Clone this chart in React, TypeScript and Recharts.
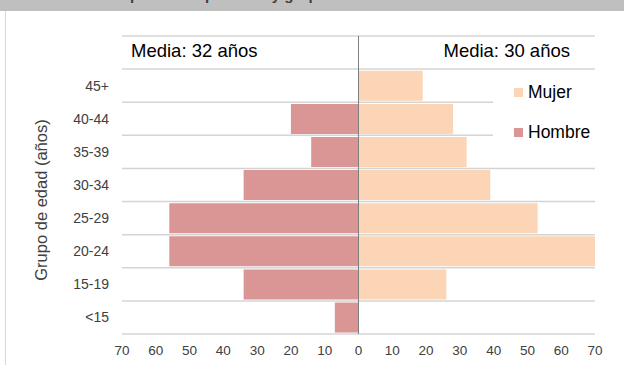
import React from "react";
import {
  BarChart,
  Bar,
  XAxis,
  YAxis,
  CartesianGrid,
  ReferenceLine,
} from "recharts";

const categories = ["", "45+", "40-44", "35-39", "30-34", "25-29", "20-24", "15-19", "<15"];
const mujer = [0, 19, 28, 32, 39, 53, 70, 26, 0];
const hombre = [0, 0, 20, 14, 34, 56, 56, 34, 7];
const xTicks = [-70, -60, -50, -40, -30, -20, -10, 0, 10, 20, 30, 40, 50, 60, 70];
const mediaHombre = "Media: 32 años";
const mediaMujer = "Media: 30 años";
const seriesNames = { mujer: "Mujer", hombre: "Hombre" };
const title = "Distribución de la población por sexo y grupo de edad";
const yLabel = "Grupo de edad (años)";

const data = categories.map((g, i) => ({ grupo: g, mujer: mujer[i], hombre: -hombre[i] }));

const COLOR_MUJER = "#FBD5B5";
const COLOR_HOMBRE = "#D99694";
const FONT = "'Liberation Sans', Arial, sans-serif";

export default function App() {
  return (
    <div
      style={{
        position: "absolute",
        left: 0,
        top: 0,
        width: 624,
        height: 365,
        background: "#ffffff",
        overflow: "hidden",
        fontFamily: FONT,
      }}
    >
      {/* header band */}
      <div style={{ position: "absolute", left: 0, top: 0, width: 624, height: 11, background: "#bfbfbf", overflow: "hidden" }}>
        <div style={{ position: "absolute", left: 0, top: -13, fontSize: 15, fontWeight: "bold", color: "#404040", whiteSpace: "nowrap", lineHeight: "16px" }}>
          {title}
        </div>
      </div>
      {/* panel left border */}
      <div style={{ position: "absolute", left: 5, top: 11, width: 1, height: 354, background: "#d9d9d9" }} />

      <div style={{ position: "absolute", left: 0, top: 0 }}>
        <BarChart
          width={624}
          height={365}
          data={data}
          layout="vertical"
          stackOffset="sign"
          barCategoryGap="5%"
          margin={{ top: 36, right: 29, bottom: 0, left: 0 }}
        >
          <CartesianGrid
            vertical={false}
            stroke="#d4d4d4"
            strokeWidth={1.5}
            horizontalCoordinatesGenerator={({ offset }: any) =>
              Array.from({ length: categories.length + 1 }, (_, i) => offset.top + (i * offset.height) / categories.length)
            }
          />
          <XAxis
            type="number"
            domain={[-70, 70]}
            ticks={xTicks}
            tickFormatter={(v: number) => String(Math.abs(v))}
            axisLine={false}
            tickLine={false}
            tickSize={0}
            tickMargin={11}
            height={31}
            tick={{ fill: "#404040", fontSize: 13.5, fontFamily: FONT }}
            interval={0}
          />
          <YAxis
            type="category"
            dataKey="grupo"
            width={122}
            axisLine={false}
            tickLine={false}
            tickSize={0}
            tickMargin={13}
            interval={0}
            tick={{ fill: "#404040", fontSize: 14, fontFamily: FONT }}
          />
          <Bar dataKey="hombre" stackId="a" fill={COLOR_HOMBRE} isAnimationActive={false} />
          <Bar dataKey="mujer" stackId="a" fill={COLOR_MUJER} isAnimationActive={false} />
          <ReferenceLine x={0} stroke="#7f7f7f" strokeWidth={1} />
        </BarChart>
      </div>

      {/* Media labels */}
      <div style={{ position: "absolute", left: 131, top: 40, fontSize: 18.5, color: "#000", whiteSpace: "nowrap", lineHeight: "22px" }}>
        {mediaHombre}
      </div>
      <div style={{ position: "absolute", right: 624 - 570, top: 40, fontSize: 18.5, color: "#000", whiteSpace: "nowrap", lineHeight: "22px" }}>
        {mediaMujer}
      </div>

      {/* Legend */}
      <div style={{ position: "absolute", left: 493, top: 72, width: 107, height: 95, background: "#ffffff" }}>
        {[
          { name: seriesNames.mujer, color: COLOR_MUJER, y: 20 },
          { name: seriesNames.hombre, color: COLOR_HOMBRE, y: 60 },
        ].map((it) => (
          <div key={it.name} style={{ position: "absolute", left: 21, top: it.y - 10, height: 20, display: "flex", alignItems: "center" }}>
            <div style={{ width: 9, height: 9, background: it.color, marginRight: 5 }} />
            <span style={{ fontSize: 17.5, color: "#000", lineHeight: "20px" }}>{it.name}</span>
          </div>
        ))}
      </div>

      {/* Y axis title */}
      <div
        style={{
          position: "absolute",
          left: 41,
          top: 200,
          transform: "translate(-50%, -50%) rotate(-90deg)",
          fontSize: 16.5,
          color: "#404040",
          whiteSpace: "nowrap",
          lineHeight: "18px",
        }}
      >
        {yLabel}
      </div>
    </div>
  );
}
